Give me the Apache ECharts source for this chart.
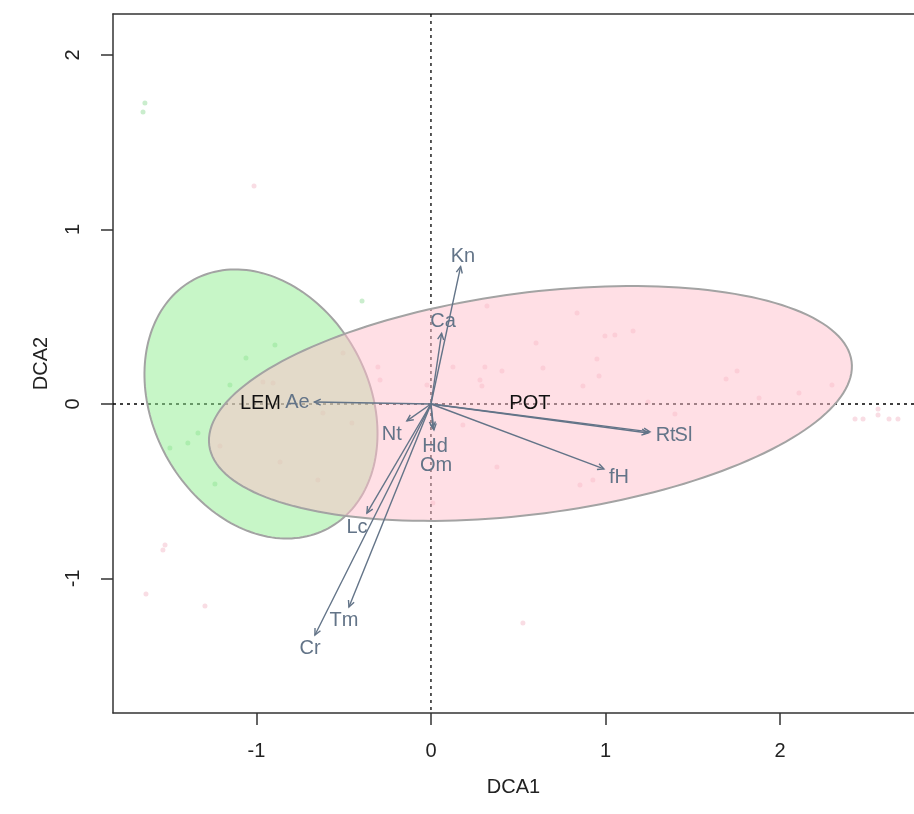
<!DOCTYPE html>
<html>
<head>
<meta charset="utf-8">
<title>DCA</title>
<script src="https://cdn.jsdelivr.net/npm/echarts@6/dist/echarts.min.js"></script>
<style>
  html, body { margin: 0; padding: 0; background: #fff; }
  #chart { width: 914px; height: 814px; }
</style>
</head>
<body>
<div id="chart"></div>
<script>
// ticks
const xTicks = [-1, 0, 1, 2];
const yTicks = [-1, 0, 1, 2];

// site scores (LEM = green, POT = pink)
const lemX = [-1.639, -1.650, -0.395, -0.894, -1.060, -1.152, -1.335, -1.393, -1.496, -1.238];
const lemY = [1.725, 1.673, 0.590, 0.338, 0.264, 0.109, -0.166, -0.223, -0.252, -0.458];

const potX = [-1.014, -1.536, -1.524, -1.633, -1.295, 0.527, 2.430, 2.476, 2.562, 2.562, 2.625, 2.676,
  1.691, 1.754, 1.880, 2.109, 2.298, 0.837, 0.997, 1.054, 1.158, 0.951, 0.963, 0.871, 1.398, 1.244,
  0.928, 0.854, 0.321, 0.602, 0.126, 0.309, 0.407, 0.642, 0.281, 0.292, -0.023, 0.378, 0.183,
  -0.504, -0.619, -0.453, -0.865, -0.648, -0.963, -0.905, -1.209, -0.304, -0.292, 0.011];
const potY = [1.249, -0.837, -0.808, -1.089, -1.158, -1.255, -0.086, -0.086, -0.029, -0.063, -0.086, -0.086,
  0.143, 0.189, 0.034, 0.063, 0.109, 0.521, 0.390, 0.395, 0.418, 0.258, 0.160, 0.103, -0.057, 0.011,
  -0.436, -0.464, 0.562, 0.350, 0.212, 0.212, 0.189, 0.206, 0.138, 0.103, 0.109, -0.361, -0.120,
  0.292, -0.052, -0.109, -0.332, -0.436, 0.126, 0.120, -0.241, 0.212, 0.138, -0.567];

// group ellipses: centre, semi-axes, rotation (deg)
const grpNames = ['LEM', 'POT'];
const ellCx = [-0.974, 0.570];
const ellCy = [0.000, 0.003];
const ellA = [0.810, 1.856];
const ellB = [0.620, 0.634];
const ellAng = [-61.6, 7.44];
const grpLabX = [-0.977, 0.567];
const grpLabY = [0.000, 0.000];

// fitted environmental vectors
const envNames = ['Kn', 'Ca', 'Ae', 'Rt', 'Sl', 'fH', 'Hd', 'Om', 'Nt', 'Lc', 'Tm', 'Cr'];
const envX = [0.170, 0.061, -0.668, 1.244, 1.255, 0.991, 0.017, 0.011, -0.138, -0.367, -0.470, -0.665];
const envY = [0.787, 0.405, 0.011, -0.166, -0.160, -0.372, -0.149, -0.138, -0.097, -0.625, -1.163, -1.324];
const envLabX = [0.183, 0.069, -0.765, 1.345, 1.447, 1.077, 0.023, 0.029, -0.224, -0.424, -0.499, -0.693];
const envLabY = [0.848, 0.470, 0.006, -0.183, -0.183, -0.424, -0.246, -0.355, -0.172, -0.705, -1.238, -1.404];

const FONT = '"Liberation Sans", Arial, sans-serif';
const ellFill = ['rgba(144,238,144,0.5)', 'rgba(255,192,203,0.5)'];
const envColor = '#637488';
const X_MIN = -1.822, X_MAX = 2.768;

let myChart = echarts.init(document.getElementById('chart'));

let option = {
  animation: false,
  grid: { left: 113, right: 0, top: 14, bottom: 101 },
  xAxis: [
    {
      type: 'value', min: X_MIN, max: X_MAX, position: 'bottom',
      name: 'DCA1', nameLocation: 'middle', nameGap: 64,
      nameTextStyle: { fontSize: 20, color: '#222', fontFamily: FONT },
      splitLine: { show: false },
      axisLine: { onZero: false, lineStyle: { color: '#333', width: 1.5 } },
      axisTick: { customValues: xTicks, length: 12, lineStyle: { color: '#333', width: 1.5 } },
      axisLabel: { customValues: xTicks, margin: 28, fontSize: 20, color: '#222', fontFamily: FONT }
    },
    {
      // top side of the box
      type: 'value', min: X_MIN, max: X_MAX, position: 'top',
      splitLine: { show: false },
      axisLine: { onZero: false, lineStyle: { color: '#333', width: 1.5 } },
      axisTick: { show: false },
      axisLabel: { show: false }
    }
  ],
  yAxis: {
    type: 'value', min: -1.771, max: 2.235,
    name: 'DCA2', nameLocation: 'middle', nameGap: 62,
    nameTextStyle: { fontSize: 20, color: '#222', fontFamily: FONT },
    splitLine: { show: false },
    axisLine: { onZero: false, lineStyle: { color: '#333', width: 1.5 } },
    axisTick: { customValues: yTicks, length: 12, lineStyle: { color: '#333', width: 1.5 } },
    axisLabel: { customValues: yTicks, rotate: 90, margin: 30, fontSize: 20, color: '#222', fontFamily: FONT }
  },
  series: [
    {
      name: 'POT sites', type: 'scatter', z: 1,
      symbolSize: 5,
      itemStyle: { color: 'rgba(235,150,170,0.4)' },
      data: potX.map((x, i) => [x, potY[i]])
    },
    {
      name: 'LEM sites', type: 'scatter', z: 1,
      symbolSize: 5,
      itemStyle: { color: 'rgba(90,200,100,0.4)' },
      data: lemX.map((x, i) => [x, lemY[i]])
    },
    {
      // dotted zero lines, under the ellipses
      type: 'custom', z: 2, silent: true,
      data: [[0, 0]],
      renderItem: function (params, api) {
        let cs = params.coordSys;
        let o = api.coord([api.value(0), api.value(1)]);
        let st = { stroke: '#000', lineWidth: 1.3, lineDash: [3, 4] };
        return {
          type: 'group',
          children: [
            { type: 'line', shape: { x1: cs.x, y1: o[1], x2: cs.x + cs.width, y2: o[1] }, style: st },
            { type: 'line', shape: { x1: o[0], y1: cs.y, x2: o[0], y2: cs.y + cs.height }, style: st }
          ]
        };
      }
    },
    {
      // ordiellipse style group ellipses
      type: 'custom', z: 3, silent: true,
      encode: { x: 0, y: 1 },
      data: grpNames.map((n, i) => [ellCx[i], ellCy[i], ellA[i], ellB[i], ellAng[i]]),
      renderItem: function (params, api) {
        let cx = api.value(0), cy = api.value(1);
        let a = api.value(2), b = api.value(3);
        let ang = api.value(4) * Math.PI / 180;
        let pts = [];
        for (let k = 0; k < 180; k++) {
          let t = 2 * Math.PI * k / 180;
          let dx = a * Math.cos(t), dy = b * Math.sin(t);
          pts.push(api.coord([
            cx + dx * Math.cos(ang) - dy * Math.sin(ang),
            cy + dx * Math.sin(ang) + dy * Math.cos(ang)
          ]));
        }
        return {
          type: 'polygon',
          shape: { points: pts },
          style: { fill: ellFill[params.dataIndex], stroke: '#a3a3a3', lineWidth: 2 }
        };
      }
    },
    {
      // arrows
      type: 'custom', z: 4, silent: true,
      encode: { x: 0, y: 1 },
      data: envNames.map((n, i) => [envX[i], envY[i]]),
      renderItem: function (params, api) {
        let p0 = api.coord([0, 0]);
        let p1 = api.coord([api.value(0), api.value(1)]);
        let th = Math.atan2(p1[1] - p0[1], p1[0] - p0[0]);
        let len = 7, spread = 0.45;
        let h1 = [p1[0] - len * Math.cos(th - spread), p1[1] - len * Math.sin(th - spread)];
        let h2 = [p1[0] - len * Math.cos(th + spread), p1[1] - len * Math.sin(th + spread)];
        return {
          type: 'group',
          children: [
            { type: 'line', shape: { x1: p0[0], y1: p0[1], x2: p1[0], y2: p1[1] },
              style: { stroke: envColor, lineWidth: 1.4 } },
            { type: 'polyline', shape: { points: [h1, p1, h2] },
              style: { stroke: envColor, lineWidth: 1.4, fill: null } }
          ]
        };
      }
    },
    {
      // arrow labels
      type: 'custom', z: 5, silent: true,
      encode: { x: 0, y: 1 },
      data: envNames.map((n, i) => [envLabX[i], envLabY[i]]),
      renderItem: function (params, api) {
        let p = api.coord([api.value(0), api.value(1)]);
        return {
          type: 'text', x: p[0], y: p[1],
          style: { text: envNames[params.dataIndex], fill: envColor, font: '20px ' + FONT,
            align: 'center', verticalAlign: 'middle' }
        };
      }
    },
    {
      // group labels
      type: 'custom', z: 6, silent: true,
      encode: { x: 0, y: 1 },
      data: grpNames.map((n, i) => [grpLabX[i], grpLabY[i]]),
      renderItem: function (params, api) {
        let p = api.coord([api.value(0), api.value(1)]);
        return {
          type: 'text', x: p[0], y: p[1],
          style: { text: grpNames[params.dataIndex], fill: '#111', font: '20px ' + FONT,
            align: 'center', verticalAlign: 'middle' }
        };
      }
    }
  ]
};

myChart.setOption(option);
</script>
</body>
</html>
